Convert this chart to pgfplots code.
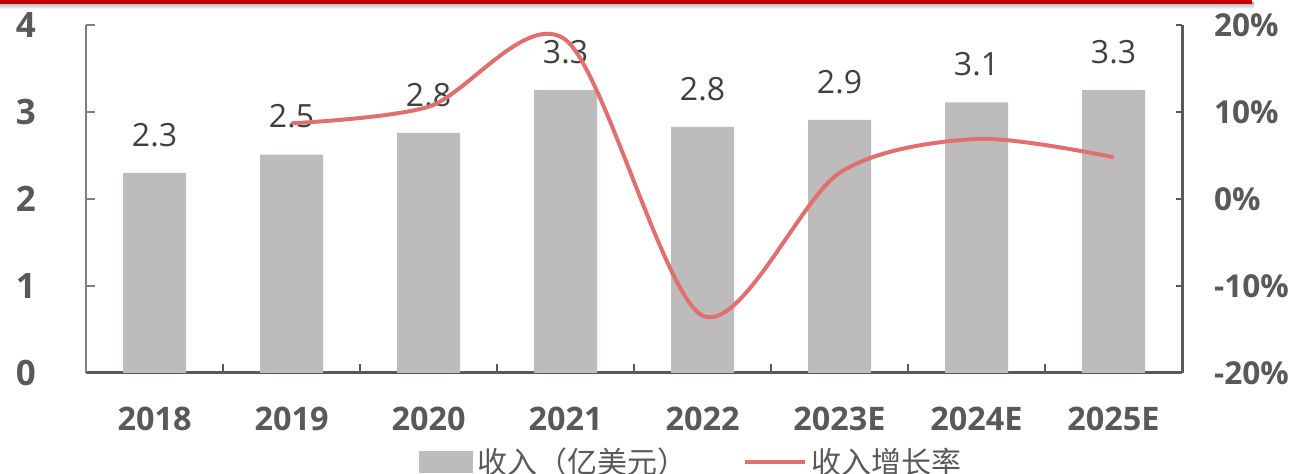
\documentclass[border=0pt]{standalone}
\usepackage{pgfplots}
\pgfplotsset{compat=1.18}
\usepackage{fontspec}
\setmainfont{Open Sans}
\newfontfamily\cjk{Noto Sans CJK SC}
\definecolor{barc}{HTML}{BDBBBC}
\definecolor{linec}{HTML}{E07070}
\definecolor{axc}{HTML}{595959}
\definecolor{axl}{HTML}{7F7F7F}
\definecolor{lblc}{HTML}{404040}
\definecolor{topred}{HTML}{C00000}
\begin{document}
\begin{tikzpicture}
\path[use as bounding box] (0pt,0pt) rectangle (652pt,237pt);
\shade[top color=black!30, bottom color=white] (0pt,232.5pt) rectangle (627pt,235.5pt);
\fill[topred] (0pt,235.2pt) rectangle (626pt,237pt);
\begin{axis}[
  at={(43pt,50.5pt)}, anchor=south west,
  scale only axis, width=548pt, height=174pt,
  xmin=-0.5, xmax=7.5, ymin=0, ymax=4,
  axis x line*=bottom, axis y line*=left,
  axis line style={-},
  x axis line style={-, draw=axc, line width=1.5pt},
  y axis line style={-, draw=axl, line width=1.2pt},
  xtick={0,...,7},
  xticklabels={2018,2019,2020,2021,2022,2023E,2024E,2025E},
  minor xtick={0.5,1.5,...,6.5},
  major x tick style={draw=none},
  minor x tick style={draw=axc, line width=1.2pt},
  minor tick length=4.5pt,
  ytick={0,1,2,3,4},
  y tick style={draw=axl, line width=1.2pt},
  major tick length=4.5pt,
  tick align=inside,
  /pgf/number format/assume math mode=true,
  xticklabel style={anchor=center, yshift=-23pt, font=\fontsize{16.2}{18}\selectfont\bfseries, text=axc},
  yticklabel style={anchor=east, xshift=-21.5pt, font=\fontsize{17.5}{20}\selectfont\bfseries, text=axc},
  legend style={at={(0.553,-0.256)}, anchor=center, draw=none, fill=none, legend columns=2,
    font=\cjk\fontsize{15}{18}\selectfont, text=axc,
    /tikz/every even column/.append style={column sep=26pt}},
  clip=false,
]
\addplot[ybar, bar width=31.5pt, fill=barc, draw=none,
  nodes near coords, point meta=explicit symbolic,
  nodes near coords style={anchor=center, yshift=19pt, font=\fontsize{16}{19}\selectfont, text=lblc},
  legend image code/.code={\fill[barc] (0pt,-5.5pt) rectangle (27pt,5.5pt);}]
  coordinates {(0,2.30)[2.3] (1,2.51)[2.5] (2,2.76)[2.8] (3,3.25)[3.3] (4,2.83)[2.8] (5,2.91)[2.9] (6,3.11)[3.1] (7,3.25)[3.3]};
\addlegendentry{收入（亿美元）}
\addlegendimage{legend image code/.code={\draw[linec, line width=2pt] (0pt,0pt) -- (30pt,0pt);}}
\addlegendentry{收入增长率}
\end{axis}
\begin{axis}[
  at={(43pt,50.5pt)}, anchor=south west,
  scale only axis, width=548pt, height=174pt,
  xmin=-0.5, xmax=7.5, ymin=-20, ymax=20,
  axis x line=none, axis y line*=right,
  axis line style={-},
  y axis line style={-, draw=axc, line width=1.5pt},
  ytick={-20,-10,0,10,20},
  yticklabel={\pgfmathprintnumber{\tick}\%},
  y tick style={draw=axc, line width=1.2pt},
  major tick length=3pt,
  tick align=inside,
  /pgf/number format/assume math mode=true,
  yticklabel style={anchor=west, xshift=12.5pt, font=\fontsize{15.8}{18}\selectfont\bfseries, text=axc},
  clip=false,
]
\addplot[linec, line width=2pt, smooth, tension=0.5]
  coordinates {(1,8.7) (2,10.6) (3,18.3) (4,-13.4) (5,3.0) (6,6.9) (7,4.8)};
\end{axis}
\end{tikzpicture}
\end{document}
